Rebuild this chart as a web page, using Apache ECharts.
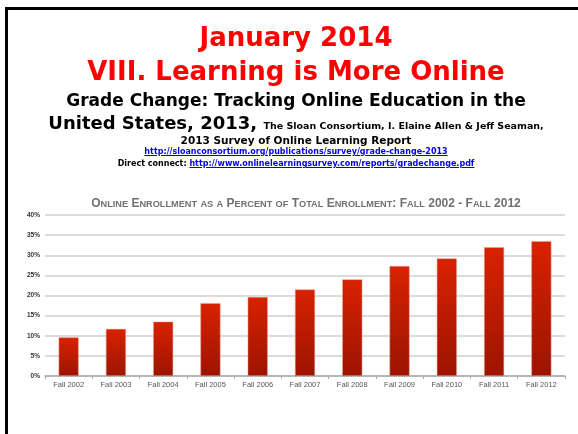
<!DOCTYPE html>
<html>
<head>
<meta charset="utf-8">
<script src="https://cdn.jsdelivr.net/npm/echarts@6/dist/echarts.min.js"></script>
<style>
  html, body { margin: 0; padding: 0; width: 578px; height: 434px; overflow: hidden; background: #fff; }
  #frame { position: absolute; left: 5px; top: 7px; width: 600px; height: 500px;
           border-top: 3px solid #000; border-left: 3px solid #000; }
  #chart { position: absolute; left: 0; top: 0; width: 578px; height: 434px; }
  .ln { position: absolute; left: 0; width: 592px; text-align: center; white-space: nowrap;
        font-family: "DejaVu Sans", Verdana, sans-serif; font-weight: bold; }
  .red { color: #ff0000; font-size: 26px; }
  .blk { color: #000; }
  a { color: #0000ee; text-decoration: underline; }
</style>
</head>
<body>
<div id="frame"></div>
<div id="chart"></div>
<div class="ln red" style="top:21px;line-height:32px;">January 2014</div>
<div class="ln red" style="top:55px;line-height:32px;">VIII. Learning is More Online</div>
<div class="ln blk" style="top:89px;line-height:22px;font-size:17px;">Grade Change: Tracking Online Education in the</div>
<div class="ln blk" style="top:112px;line-height:22px;font-size:18px;">United States, 2013, <span style="font-size:9.5px;">The Sloan Consortium, I. Elaine Allen &amp; Jeff Seaman,</span></div>
<div class="ln blk" style="top:133px;line-height:14px;font-size:10.5px;">2013 Survey of Online Learning Report</div>
<div class="ln blk" style="top:146px;line-height:11px;font-size:8px;"><a>http://sloanconsortium.org/publications/survey/grade-change-2013</a></div>
<div class="ln blk" style="top:158px;line-height:11px;font-size:8px;">Direct connect: <a>http://www.onlinelearningsurvey.com/reports/gradechange.pdf</a></div>
<script>
  // --- Data ---
  var CATEGORIES = ['Fall 2002', 'Fall 2003', 'Fall 2004', 'Fall 2005', 'Fall 2006', 'Fall 2007',
                    'Fall 2008', 'Fall 2009', 'Fall 2010', 'Fall 2011', 'Fall 2012'];
  var ONLINE_PCT = [9.6, 11.7, 13.5, 18.1, 19.6, 21.5, 24.0, 27.3, 29.2, 32.0, 33.5];
  var CHART_TITLE = 'Online Enrollment as a Percent of Total Enrollment: Fall 2002 - Fall 2012';

  // small-caps look: lowercase runs become smaller capitals
  function smallCaps(str) {
    var out = '';
    var i = 0;
    while (i < str.length) {
      var c = str[i];
      var isLow = c !== c.toUpperCase();
      var j = i;
      while (j < str.length && ((str[j] !== str[j].toUpperCase()) === isLow)) j++;
      var run = str.slice(i, j);
      out += isLow ? '{s|' + run.toUpperCase() + '}' : '{b|' + run + '}';
      i = j;
    }
    return out;
  }

  var chart = echarts.init(document.getElementById('chart'));
  chart.setOption({
    animation: false,
    title: {
      text: smallCaps(CHART_TITLE),
      left: 301, top: 193, textAlign: 'center',
      textStyle: {
        rich: {
          b: { fontFamily: 'Liberation Sans', fontSize: 12, color: '#707070' },
          s: { fontFamily: 'Liberation Sans', fontSize: 9.2, color: '#707070' }
        }
      }
    },
    grid: { left: 45, right: 13, top: 215, bottom: 58 },
    xAxis: {
      type: 'category',
      data: CATEGORIES,
      axisLine: { lineStyle: { color: '#aaa', width: 1.5 } },
      axisTick: { show: true, length: 3, lineStyle: { color: '#aaa' } },
      axisLabel: { color: '#555', fontSize: 7.5, fontFamily: 'Liberation Sans', margin: 5 }
    },
    yAxis: {
      type: 'value',
      min: 0, max: 40, interval: 5,
      axisLabel: { formatter: '{value}%', color: '#333', fontSize: 6.5, fontWeight: 'bold',
                   fontFamily: 'Liberation Sans', margin: 5 },
      axisLine: { show: false },
      axisTick: { show: false },
      splitLine: { lineStyle: { color: '#cfcfcf', width: 1.5 } }
    },
    series: [{
      type: 'bar',
      data: ONLINE_PCT,
      barWidth: 20,
      itemStyle: {
        color: new echarts.graphic.LinearGradient(0, 0, 0, 1, [
          { offset: 0, color: '#d82200' },
          { offset: 1, color: '#9c1400' }
        ]),
        borderColor: '#e8a090',
        borderWidth: 0.5
      }
    }]
  });
</script>
</body>
</html>
